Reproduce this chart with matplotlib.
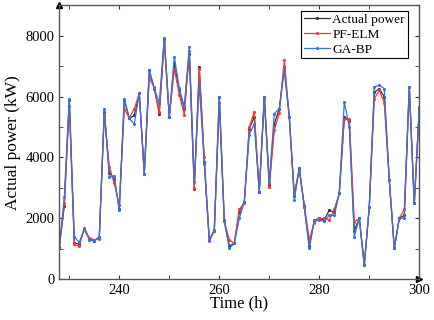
import matplotlib
matplotlib.use("Agg")
import matplotlib.pyplot as plt
from matplotlib.ticker import MultipleLocator

hours = list(range(228, 301))

actual = [1050, 2400, 5900, 1200, 1150, 1650, 1350, 1270, 1380, 5500,
          3500, 3300, 2300, 5900, 5280, 5380, 6100, 3470, 6860, 6260,
          5440, 7900, 5330, 7100, 6200, 5600, 7400, 2980, 6970, 3850,
          1290, 1600, 6000, 1940, 1100, 1180, 2200, 2540, 4950, 5330,
          2870, 6000, 3100, 5100, 5600, 6970, 5330, 2750, 3640, 2380,
          1100, 1940, 2000, 1950, 2270, 2200, 2820, 5330, 5200, 1600,
          2000, 470, 2380, 6150, 6250, 6000, 3260, 1020, 2000, 2100,
          6320, 2490, 5600]

pf_elm = [1050, 2500, 5700, 1150, 1100, 1700, 1350, 1300, 1330, 5400,
          3700, 3150, 2450, 5600, 5300, 5600, 6100, 3470, 6600, 6300,
          5500, 7800, 5330, 6900, 6060, 5400, 7500, 3000, 6900, 4000,
          1250, 1580, 5800, 1900, 1300, 1180, 2300, 2500, 5000, 5500,
          2870, 5900, 3040, 4900, 5450, 7190, 5330, 2820, 3600, 2450,
          1300, 1850, 2000, 2000, 1950, 2300, 2820, 5250, 5250, 1890,
          2000, 500, 2380, 5930, 6200, 5800, 3260, 1020, 2000, 2300,
          6300, 2490, 5600]

ga_bp = [1050, 2700, 5930, 1400, 1210, 1650, 1300, 1250, 1400, 5600,
         3360, 3390, 2270, 5930, 5280, 5100, 6100, 3470, 6860, 6260,
         5800, 7930, 5330, 7300, 6270, 5660, 7630, 3200, 6400, 3800,
         1290, 1620, 6000, 1900, 1020, 1180, 2000, 2540, 4750, 5100,
         2870, 6000, 3200, 5440, 5600, 6850, 5330, 2620, 3640, 2380,
         1020, 1940, 1950, 1900, 2100, 2100, 2820, 5820, 5000, 1400,
         2000, 470, 2380, 6320, 6370, 6260, 3260, 1020, 2000, 2000,
         6320, 2490, 5660]

plt.rcParams['font.family'] = ['Liberation Serif', 'DejaVu Serif']

fig = plt.figure(figsize=(4.34, 3.2), dpi=100)
ax = fig.add_axes([0.1366, 0.127, 0.8295, 0.857])

ax.plot(hours, actual, color='#333333', lw=0.9, marker='.', ms=2.5, label='Actual power')
ax.plot(hours, pf_elm, color='#ff3535', lw=0.9, marker='.', ms=2.5, label='PF-ELM')
ax.plot(hours, ga_bp, color='#3373e0', lw=0.9, marker='.', ms=2.5, label='GA-BP')

ax.set_xlim(228, 300)
ax.set_ylim(0, 9000)
ax.xaxis.set_major_locator(MultipleLocator(20))
ax.xaxis.set_minor_locator(MultipleLocator(10))
ax.yaxis.set_major_locator(MultipleLocator(2000))
ax.yaxis.set_minor_locator(MultipleLocator(1000))
ax.set_xticks([240, 260, 280, 300])
ax.tick_params(which='both', direction='in', top=True, right=True,
               labelsize=10.5, colors='#333333', labelcolor='black')
ax.tick_params(which='major', length=3)
ax.tick_params(which='minor', length=3)
for s in ax.spines.values():
    s.set_color('#555555')
    s.set_linewidth(1.0)

ax.set_xlabel('Time (h)', fontsize=12, labelpad=-1)
ax.set_ylabel('Actual power (kW)', fontsize=12.5, labelpad=3)

ax.plot([0], [1], marker='^', color='black', ms=5, transform=ax.transAxes, clip_on=False)
ax.plot([1], [0], marker='>', color='black', ms=5, transform=ax.transAxes, clip_on=False)

leg = ax.legend(loc='upper right', bbox_to_anchor=(0.975, 0.99), fontsize=9.6,
                frameon=True, fancybox=False, edgecolor='black', framealpha=1,
                handlelength=2.0, handletextpad=0.15, borderpad=0.2,
                labelspacing=0.2, borderaxespad=0.2)
leg.get_frame().set_linewidth(0.8)

fig.savefig('out.png', dpi=100)
